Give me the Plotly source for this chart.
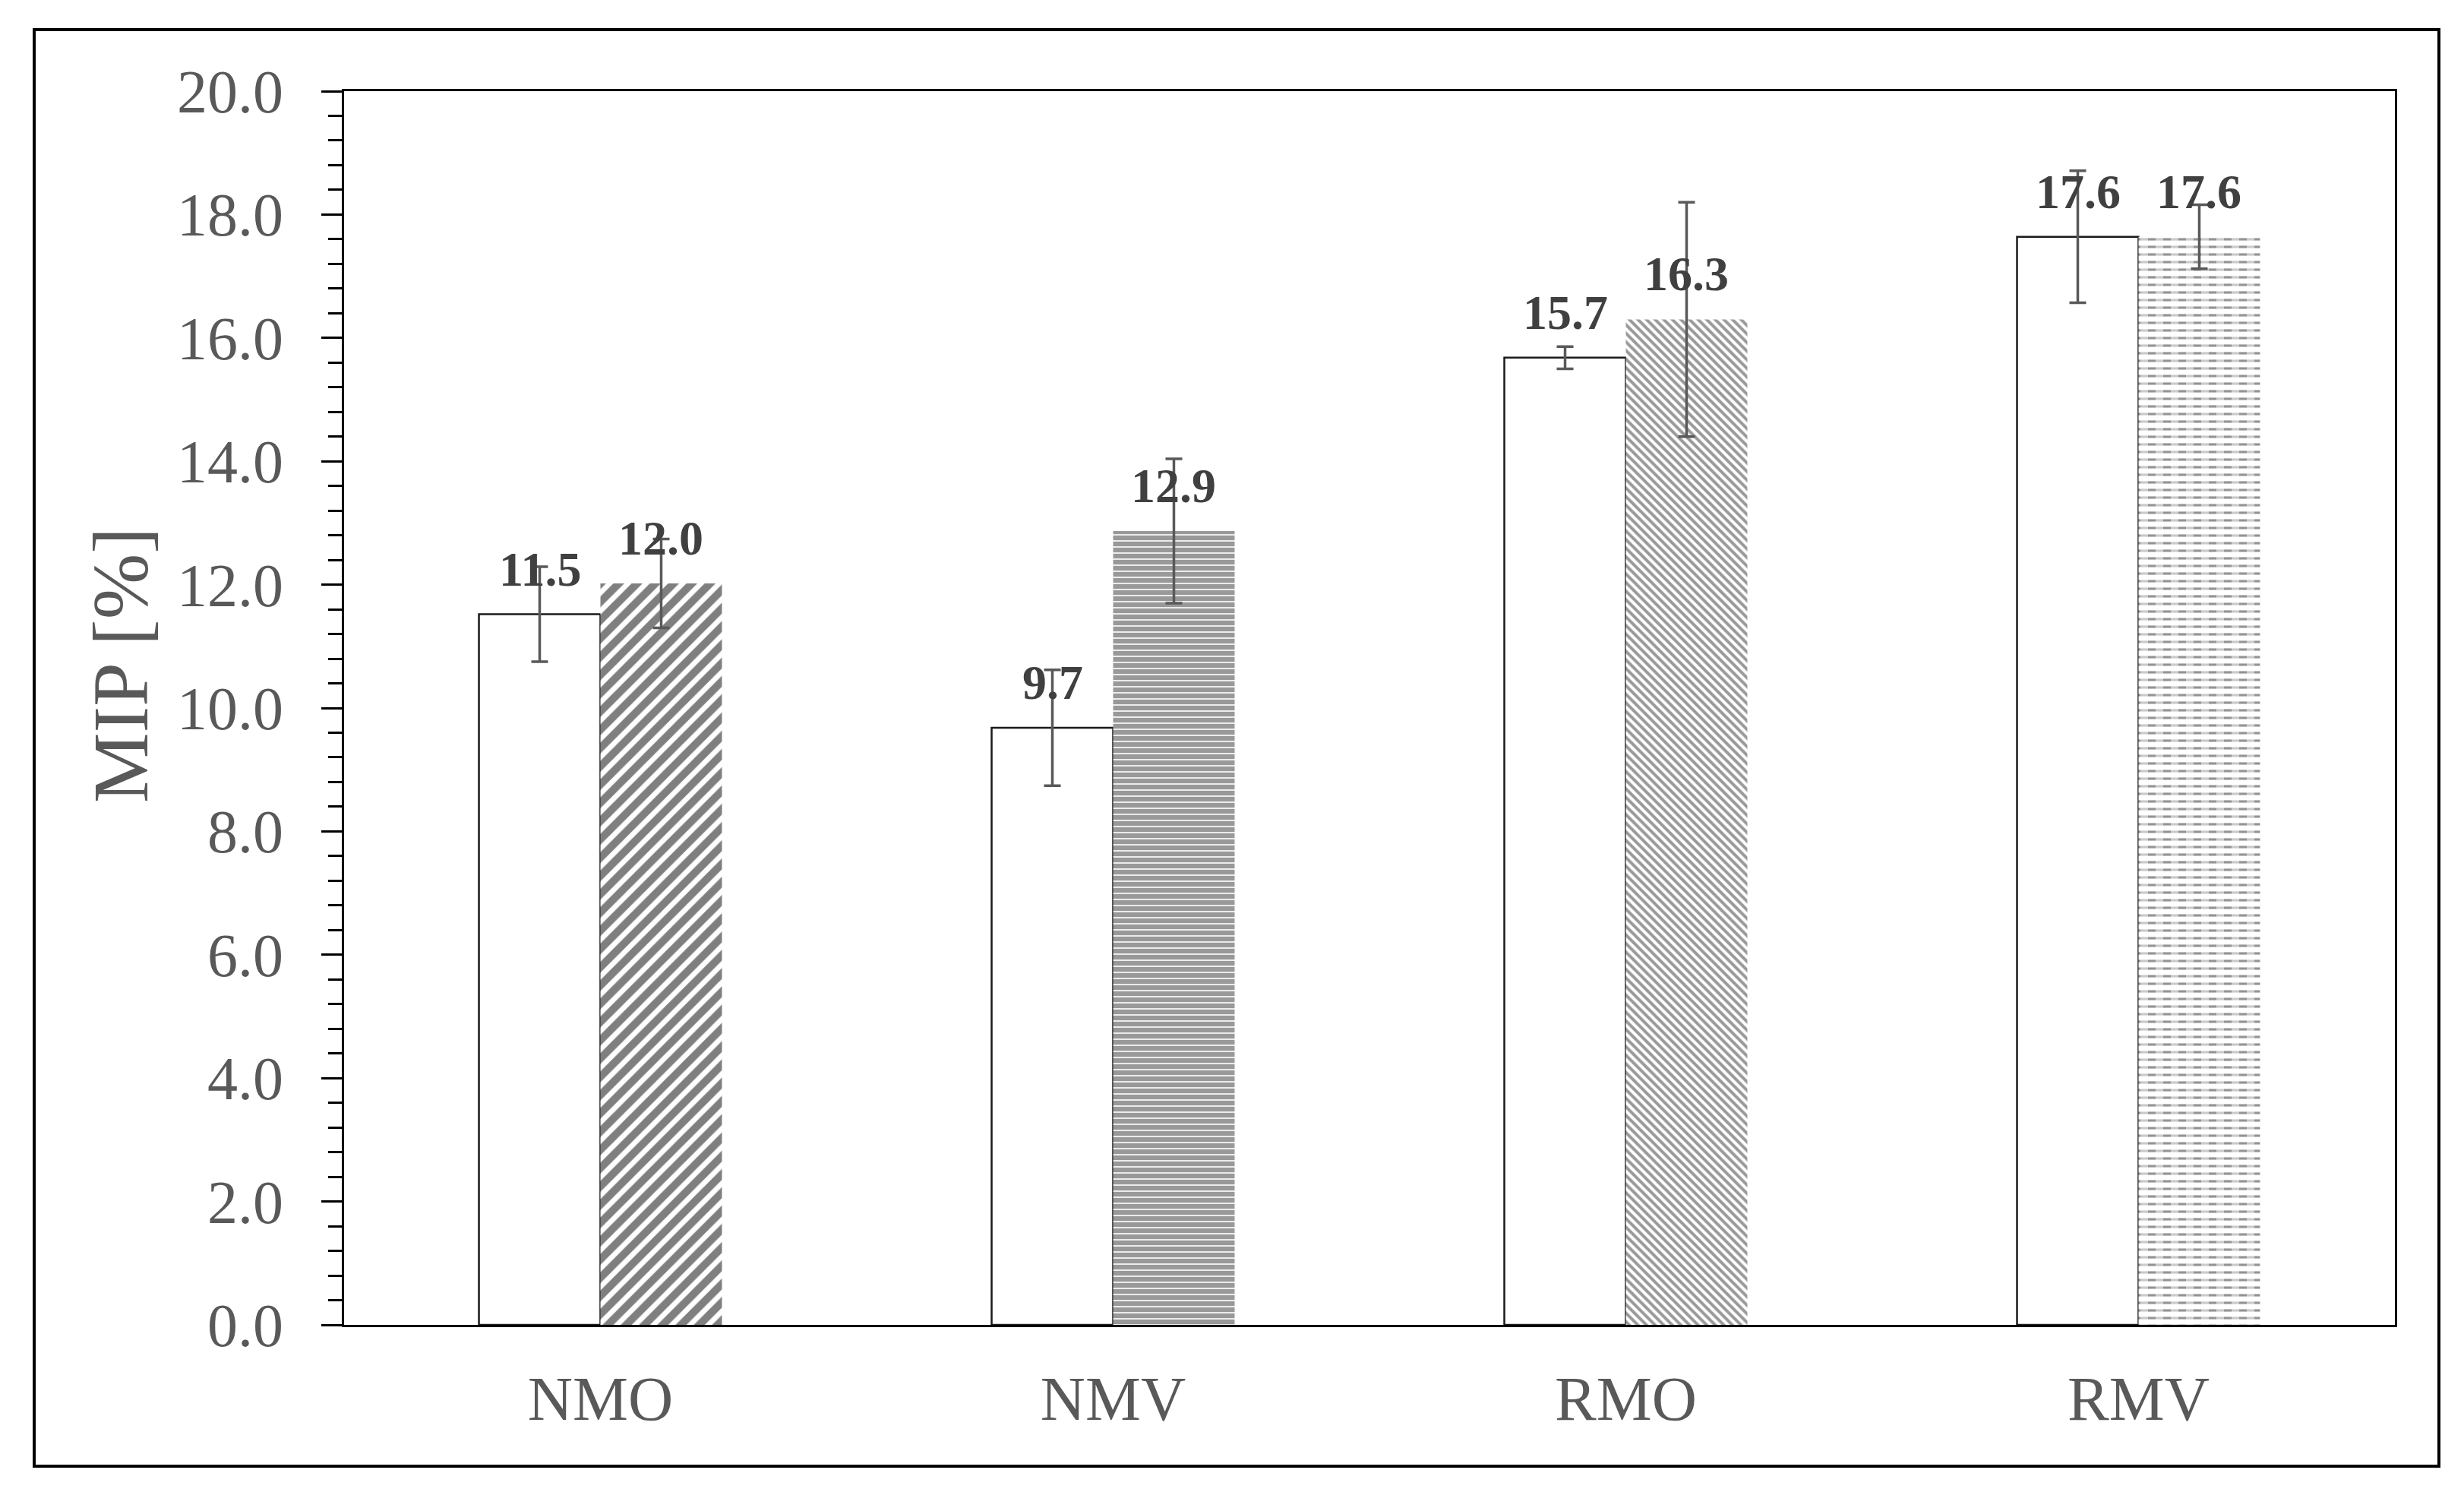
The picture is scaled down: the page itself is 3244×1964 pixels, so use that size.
import plotly.graph_objects as go

# ---- data ----
categories = ["NMO", "NMV", "RMO", "RMV"]
white_values = [11.52, 9.68, 15.68, 17.64]
white_errors = [0.77, 0.94, 0.18, 1.07]
hatched_values = [12.02, 12.87, 16.30, 17.64]
hatched_errors = [0.72, 1.17, 1.90, 0.52]
y_tick_values = [0, 2, 4, 6, 8, 10, 12, 14, 16, 18, 20]
y_tick_labels = ["0.0", "2.0", "4.0", "6.0", "8.0", "10.0", "12.0", "14.0", "16.0", "18.0", "20.0"]

# ---- style / layout constants ----
W, H = 3244, 1964
PL, PR, PT, PB = 445, 3145, 112, 1736   # plot area in pixels
BAR_W = 0.237
SERIF = "Liberation Serif, Times New Roman, serif"
GRAY_TXT = "#595959"
ERR_COLOR = "#595959"

xs = list(range(len(categories)))

fig = go.Figure()

# white bars (left of each category)
fig.add_trace(go.Bar(
    x=xs, y=white_values, width=BAR_W, offset=-BAR_W,
    marker=dict(color="white", line=dict(color="#1a1a1a", width=2.5)),
    error_y=dict(type="data", array=white_errors, visible=True,
                 color=ERR_COLOR, thickness=3.5, width=11),
    showlegend=False, hoverinfo="y",
))

# patterned bars (right of each category)
fig.add_trace(go.Bar(
    x=xs, y=hatched_values, width=BAR_W, offset=0,
    marker=dict(
        color="white", line=dict(width=0),
        pattern=dict(
            shape=["/", "-", "\\", "-"],
            size=[17, 8, 8, 10],
            solidity=[0.6, 0.8, 0.5, 0.32],
            fgcolor=["#000000", "#333333", "#333333", "#2a2a2a"],
            bgcolor="white",
        ),
    ),
    showlegend=False, hoverinfo="y",
))

# mask that cuts the RMV lines into dashes
fig.add_trace(go.Bar(
    x=xs, y=hatched_values, width=BAR_W, offset=0,
    marker=dict(
        color="rgba(0,0,0,0)", line=dict(width=0),
        pattern=dict(
            shape=["", "", "", "|"],
            size=20, solidity=0.5,
            fgcolor="white", bgcolor="rgba(0,0,0,0)",
        ),
    ),
    showlegend=False, hoverinfo="skip",
))

# error bars for patterned bars drawn on top
fig.add_trace(go.Bar(
    x=xs, y=hatched_values, width=BAR_W, offset=0,
    marker=dict(color="rgba(0,0,0,0)", line=dict(width=0)),
    error_y=dict(type="data", array=hatched_errors, visible=True,
                 color=ERR_COLOR, thickness=3.5, width=11),
    showlegend=False, hoverinfo="skip",
))

# value labels
label_font = dict(family=SERIF, size=64, color="#404040", weight="bold")
annotations = []
for i, v in enumerate(white_values):
    annotations.append(dict(
        x=i - BAR_W / 2, y=v, xref="x", yref="y", text=f"{v:.1f}",
        showarrow=False, yanchor="bottom", yshift=22, font=label_font,
    ))
for i, v in enumerate(hatched_values):
    annotations.append(dict(
        x=i + BAR_W / 2, y=v, xref="x", yref="y", text=f"{v:.1f}",
        showarrow=False, yanchor="bottom", yshift=22, font=label_font,
    ))

pw, ph = PR - PL, PB - PT
# y-axis title
annotations.append(dict(
    x=(150 - PL) / pw, y=(PB - 868) / ph, xref="paper", yref="paper",
    text="MIP [%]", textangle=-90, showarrow=False,
    xanchor="center", yanchor="middle",
    font=dict(family=SERIF, size=104, color=GRAY_TXT),
))

# outer frame
shapes = [dict(
    type="rect", xref="paper", yref="paper",
    x0=(37 - PL) / pw, x1=(3203 - PL) / pw,
    y0=(PB - 1922) / ph, y1=(PB - 31) / ph,
    line=dict(color="black", width=4), fillcolor="rgba(0,0,0,0)",
    layer="below",
)]

fig.update_layout(
    width=W, height=H,
    margin=dict(l=PL, r=W - PR, t=PT, b=H - PB, pad=0),
    paper_bgcolor="white", plot_bgcolor="white",
    barmode="overlay",
    annotations=annotations, shapes=shapes,
    font=dict(family=SERIF, color=GRAY_TXT),
)

fig.update_xaxes(
    range=[-0.5, 3.5], tickvals=xs, ticktext=categories,
    showgrid=False, zeroline=False,
    showline=True, linecolor="black", linewidth=3, mirror=True,
    ticks="", ticklabelstandoff=24,
    tickfont=dict(family=SERIF, size=82, color=GRAY_TXT),
)
fig.update_yaxes(
    range=[0, 20], tickvals=y_tick_values, ticktext=y_tick_labels,
    showgrid=False, zeroline=False,
    showline=True, linecolor="black", linewidth=3, mirror=True,
    ticks="outside", ticklen=27, tickwidth=3, tickcolor="black",
    minor=dict(dtick=0.4, ticks="outside", ticklen=18, tickwidth=3,
               tickcolor="black", showgrid=False),
    ticklabelstandoff=34,
    tickfont=dict(family=SERIF, size=80, color=GRAY_TXT),
)

fig.write_html("out.html")
